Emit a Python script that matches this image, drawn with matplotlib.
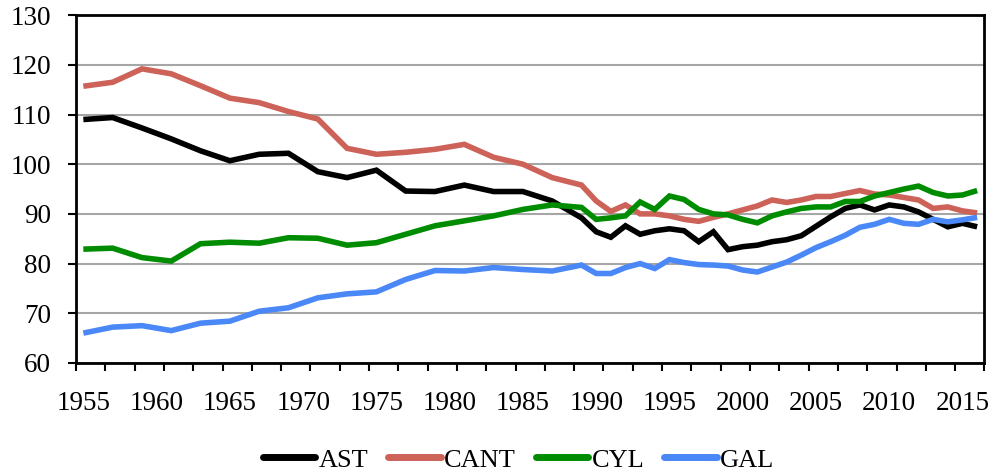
import numpy as np
import matplotlib.pyplot as plt
from matplotlib.ticker import FixedLocator

# biennial data up to 1989, annual afterwards
years = list(range(1955, 1990, 2)) + list(range(1990, 2017))

ast = [109.0, 109.4, 107.3, 105.1, 102.7, 100.7, 102.0, 102.2, 98.5, 97.3,
       98.8, 94.6, 94.5, 95.8, 94.5, 94.5, 92.6, 89.2,
       86.4, 85.3, 87.6, 85.9, 86.6, 87.0, 86.6,
       84.4, 86.4, 82.8, 83.4, 83.7, 84.4, 84.8, 85.6, 87.5, 89.4,
       91.1, 91.8, 90.8, 91.8, 91.4, 90.4, 88.9, 87.4, 88.1, 87.4]
cant = [115.7, 116.5, 119.2, 118.2, 115.8, 113.3, 112.4, 110.6, 109.1, 103.2,
        102.0, 102.4, 103.0, 104.0, 101.4, 100.0, 97.3, 95.8,
        92.6, 90.5, 91.8, 90.0, 90.0, 89.6, 88.9,
        88.5, 89.3, 90.0, 90.8, 91.6, 92.8, 92.3, 92.8, 93.5, 93.5,
        94.1, 94.7, 94.0, 93.8, 93.3, 92.8, 91.1, 91.4, 90.6, 90.2]
cyl = [82.9, 83.1, 81.2, 80.5, 84.0, 84.3, 84.1, 85.2, 85.1, 83.7,
       84.2, 85.9, 87.6, 88.6, 89.6, 90.9, 91.8, 91.3,
       88.9, 89.2, 89.6, 92.4, 90.9, 93.6, 92.9,
       90.9, 90.0, 89.8, 88.9, 88.2, 89.6, 90.4, 91.1, 91.4, 91.4,
       92.5, 92.5, 93.6, 94.3, 95.0, 95.6, 94.3, 93.6, 93.8, 94.7]
gal = [66.0, 67.2, 67.5, 66.5, 68.0, 68.4, 70.4, 71.1, 73.1, 73.9,
       74.3, 76.8, 78.6, 78.5, 79.2, 78.8, 78.5, 79.7,
       78.0, 78.0, 79.2, 80.0, 79.0, 80.8, 80.2,
       79.8, 79.7, 79.5, 78.7, 78.3, 79.3, 80.3, 81.7, 83.2, 84.4,
       85.7, 87.3, 87.9, 88.9, 88.1, 87.9, 88.9, 88.4, 88.8, 89.3]

series = {"AST": ast, "CANT": cant, "CYL": cyl, "GAL": gal}
colors = {"AST": "#000000", "CANT": "#CD6259", "CYL": "#008C00", "GAL": "#4A88F8"}

plt.rcParams["font.family"] = ["Liberation Serif", "DejaVu Serif"]

fig = plt.figure(figsize=(9.95, 4.75), dpi=100)
ax = fig.add_axes([0.0764, 0.236, 0.913, 0.732])

for name, vals in series.items():
    ax.plot(years, vals, color=colors[name], linewidth=4.0, label=name,
            solid_joinstyle="miter", solid_capstyle="butt")

ax.set_xlim(1954.5, 2016.5)
ax.set_ylim(60, 130)
ax.set_yticks(np.arange(60, 131, 10))
ax.yaxis.grid(True, color="#A6A6A6", linewidth=1.5)
ax.set_axisbelow(True)

ax.set_xticks(np.arange(1955, 2016, 5))
ax.xaxis.set_minor_locator(FixedLocator(np.arange(1954.5, 2017, 2)))
ax.tick_params(axis="x", which="major", length=0, pad=20, labelsize=19.5)
ax.tick_params(axis="x", which="minor", length=6, width=1.5, direction="out")
ax.tick_params(axis="y", length=6, width=1.5, labelsize=19.5, pad=12)

for s in ax.spines.values():
    s.set_linewidth(2)
    s.set_color("black")

leg = fig.legend(loc="center", ncol=4, frameon=False, fontsize=19,
                 bbox_to_anchor=(0.521, 0.032), handlelength=2.0,
                 handletextpad=0.12, columnspacing=0.75)
for h in leg.legend_handles:
    h.set_linewidth(5)
    h.set_solid_capstyle("round")

fig.savefig("out.png", dpi=100)
